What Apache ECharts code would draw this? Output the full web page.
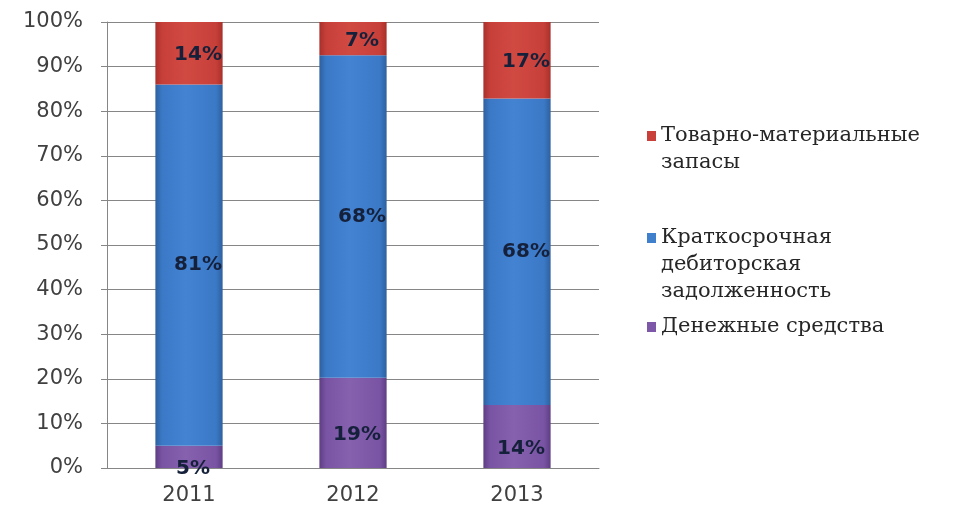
<!DOCTYPE html>
<html><head><meta charset="utf-8">
<script src="https://cdn.jsdelivr.net/npm/echarts@6/dist/echarts.min.js"></script>
<style>html,body{margin:0;padding:0;background:#fff}#c{width:967px;height:507px}</style>
</head><body><div id="c"></div>
<script>
const years = ['2011', '2012', '2013'];
const seriesNames = ['Денежные средства', 'Краткосрочная дебиторская задолженность', 'Товарно-материальные запасы'];
const cash = [5, 19, 14];
const receivables = [81, 68, 68];
const inventory = [14, 7, 17];
const yTicks = [0, 10, 20, 30, 40, 50, 60, 70, 80, 90, 100];
const legendText = {
  'Товарно-материальные запасы': 'Товарно-материальные\nзапасы',
  'Краткосрочная дебиторская задолженность': 'Краткосрочная\nдебиторская\nзадолженность',
  'Денежные средства': 'Денежные средства'
};

const raw = [cash, receivables, inventory];
const totals = years.map((_, i) => cash[i] + receivables[i] + inventory[i]);
const pct = raw.map(arr => arr.map((v, i) => v / totals[i] * 100));

function grad(c0, c1, c2) {
  return new echarts.graphic.LinearGradient(0, 0, 1, 0, [
    {offset: 0, color: c2}, {offset: 0.1, color: c0}, {offset: 0.45, color: c1}, {offset: 0.9, color: c0}, {offset: 1, color: c2}
  ]);
}
const fills = [
  grad('#7a54a4', '#8561ae', '#5e3e84'),
  grad('#3b79c7', '#4383d1', '#2e609f'),
  grad('#c73f39', '#d14a42', '#a8302b')
];
const solid = ['#7e58a8', '#3f7fcc', '#c9403a'];
const labelOffsets = [[4, 12], [9, 0], [9, 2]];

const chart = echarts.init(document.getElementById('c'), null, {renderer: 'canvas'});
const legendBase = {
  orient: 'vertical', left: 647, padding: 0, itemWidth: 9, symbolKeepAspect: false,
  textStyle: {fontFamily: 'DejaVu Serif', fontSize: 21, color: '#262626', lineHeight: 27},
  formatter: n => legendText[n], selectedMode: false
};
function iconPath(lines) { return 'path://M0,9h10v10h-10z M0,0 M10,' + (27 * lines); }

chart.setOption({
  animation: false,
  grid: {left: 107, right: 368, top: 22, bottom: 39},
  legend: [
    Object.assign({}, legendBase, {top: 122, itemHeight: 54, icon: iconPath(2), data: [{name: seriesNames[2], itemStyle: {color: solid[2]}}]}),
    Object.assign({}, legendBase, {top: 224, itemHeight: 81, icon: iconPath(3), data: [{name: seriesNames[1], itemStyle: {color: solid[1]}}]}),
    Object.assign({}, legendBase, {top: 313, itemHeight: 27, icon: iconPath(1), data: [{name: seriesNames[0], itemStyle: {color: solid[0]}}]})
  ],
  xAxis: {
    type: 'category', data: years,
    axisLine: {lineStyle: {color: '#868686'}},
    axisTick: {length: 5, lineStyle: {color: '#868686'}},
    axisLabel: {fontFamily: 'DejaVu Sans', fontSize: 21, color: '#404040', margin: 17}
  },
  yAxis: {
    type: 'value', min: 0, max: 100, interval: 10,
    axisLine: {show: true, lineStyle: {color: '#868686'}},
    axisTick: {show: true, length: 6, lineStyle: {color: '#868686'}},
    splitLine: {lineStyle: {color: '#868686'}},
    axisLabel: {fontFamily: 'DejaVu Sans', fontSize: 21, color: '#404040', margin: 24,
      formatter: v => yTicks.indexOf(v) >= 0 ? v + '%' : ''}
  },
  series: seriesNames.map((name, s) => ({
    name, type: 'bar', stack: 'total', barWidth: '41%',
    data: pct[s],
    itemStyle: {color: fills[s]},
    label: {
      show: true, position: 'inside', offset: labelOffsets[s],
      fontFamily: 'DejaVu Sans', fontWeight: 'bold', fontSize: 20, color: '#15203a',
      formatter: p => raw[s][p.dataIndex] + '%'
    }
  }))
});
</script></body></html>
